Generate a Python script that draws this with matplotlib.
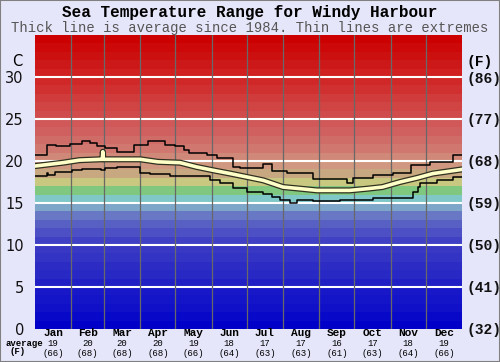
import matplotlib.pyplot as plt
import matplotlib.patheffects as pe
from matplotlib.patches import Rectangle

# month info
months = ['Jan', 'Feb', 'Mar', 'Apr', 'May', 'Jun', 'Jul', 'Aug', 'Sep', 'Oct', 'Nov', 'Dec']
month_starts = [0, 31, 59, 90, 120, 151, 181, 212, 243, 273, 304, 334, 365]
avg_c = [19, 20, 20, 20, 19, 18, 17, 17, 16, 17, 18, 19]
avg_f = [66, 68, 68, 68, 66, 64, 63, 63, 61, 63, 64, 66]

# y ticks
c_ticks = [0, 5, 10, 15, 20, 25, 30]
f_labels = ['(32)', '(41)', '(50)', '(59)', '(68)', '(77)', '(86)']

# extremes (step lines), day of year -> deg C
max_days = [0, 10, 18, 30, 40, 47, 53, 60, 70, 85, 97, 111, 120, 127, 132, 147, 156, 169, 175,
            195, 203, 215, 238, 267, 272, 289, 306, 321, 338, 357, 365]
max_temps = [20.7, 21.9, 21.8, 22.0, 22.4, 22.1, 21.8, 21.5, 21.1, 21.9, 22.4, 21.9, 21.8, 21.3,
             21.0, 20.7, 20.4, 19.3, 19.2, 19.6, 18.8, 18.6, 17.9, 17.4, 18.0, 18.3, 18.6, 19.5,
             19.9, 20.7, 20.7]
min_days = [0, 10, 11, 17, 32, 40, 56, 60, 70, 90, 98, 115, 150, 158, 169, 181, 195, 203, 209,
            218, 224, 238, 261, 289, 323, 327, 329, 344, 357, 365]
min_temps = [18.2, 18.6, 18.3, 18.7, 18.9, 19.0, 18.9, 19.2, 19.3, 18.6, 18.5, 18.2, 17.7, 17.4,
             16.8, 16.3, 16.1, 15.7, 15.4, 15.0, 15.4, 15.2, 15.4, 15.6, 16.3, 16.9, 17.4, 17.7,
             18.1, 18.1]

# average line (with the glitch near 29 Feb)
avg_days = [0, 24, 38, 56, 57.6, 58, 58.4, 67, 90, 105, 124, 138, 152, 167, 181, 195, 212, 227,
            241, 255, 269, 284, 297, 312, 327, 340, 355, 365]
avg_temps = [19.4, 19.8, 20.1, 20.2, 20.2, 21.1, 20.2, 20.2, 20.2, 19.9, 19.8, 19.3, 18.9, 18.5,
             18.1, 17.7, 16.9, 16.7, 16.5, 16.5, 16.5, 16.7, 16.9, 17.5, 18.0, 18.5, 18.8, 19.0]

# one colour per degree band, 0..35
band_colors = ['#0000c8', '#0808c8', '#1010c8', '#1414c8', '#1818c8', '#2020c4', '#2828c4',
               '#2c2cc4', '#3434c4', '#3838c4', '#4040c4', '#4c50c4', '#5860c4', '#6878c4',
               '#7ea6c8', '#80c8c8', '#80c880', '#c8c880', '#c8a880', '#d09880', '#d08878',
               '#d07870', '#d06c68', '#d06060', '#d05858', '#d04c4c', '#d04444', '#d03c3c',
               '#d03030', '#d02828', '#d02020', '#cc1818', '#cc1010', '#cc0808', '#cc0000']

bg = '#e6e6fa'
fig = plt.figure(figsize=(5, 3.62), dpi=100, facecolor=bg)
ax = fig.add_axes([0.07, 0.0912, 0.854, 0.8121])

for i, c in enumerate(band_colors):
    ax.axhspan(i, i + 1, color=c, lw=0, zorder=0)

for t in c_ticks[1:]:
    ax.axhline(t, color='white', lw=1.5, zorder=1)
for d in month_starts[1:-1]:
    ax.axvline(d, color='#686868', lw=0.9, zorder=1)

ax.step(max_days, max_temps, where='post', color='black', lw=1.1, zorder=3)
ax.step(min_days, min_temps, where='post', color='black', lw=1.1, zorder=3)
ax.plot(avg_days, avg_temps, color='#ffffc8', lw=2.6, zorder=4,
        path_effects=[pe.Stroke(linewidth=4.4, foreground='#303020'), pe.Normal()])

ax.set_xlim(0, 365)
ax.set_ylim(0, 35)
for s in ax.spines.values():
    s.set_visible(False)
ax.set_xticks([])
ax.set_yticks(c_ticks)
ax.set_yticklabels([str(t) for t in c_ticks], fontsize=10.5, family='DejaVu Sans', color='#111111')
ax.tick_params(axis='y', length=0, pad=8)

ax2 = ax.twinx()
ax2.set_ylim(0, 35)
ax2.set_yticks(c_ticks)
ax2.set_yticklabels(f_labels, fontsize=10.5, family='Liberation Mono', weight='bold', color='#111111')
ax2.tick_params(axis='y', length=0, pad=3)
for s in ax2.spines.values():
    s.set_visible(False)

# month labels under the plot
xt = ax.get_xaxis_transform()
for i, m in enumerate(months):
    mid = (month_starts[i] + month_starts[i + 1]) / 2
    ax.text(mid, -0.014, m, transform=xt, ha='center', va='center', fontsize=8,
            family='Liberation Mono', weight='bold')
    ax.text(mid, -0.049, str(avg_c[i]), transform=xt, ha='center', va='center', fontsize=6.5,
            family='Liberation Mono')
    ax.text(mid, -0.082, '(%d)' % avg_f[i], transform=xt, ha='center', va='center', fontsize=6.5,
            family='Liberation Mono')

fig.text(43 / 500, 1 - 343 / 362, 'average', ha='right', va='center', fontsize=6.5,
         family='Liberation Mono', weight='bold')
fig.text(18 / 500, 1 - 352 / 362, '(F)', ha='center', va='center', fontsize=6.5,
         family='Liberation Mono', weight='bold')
fig.text(22 / 500, 1 - 61 / 362, 'C', ha='right', va='center', fontsize=10.5, family='DejaVu Sans')
fig.text(493 / 500, 1 - 62 / 362, '(F)', ha='right', va='center', fontsize=10.5,
         family='Liberation Mono', weight='bold')

fig.text(0.5, 1 - 12.5 / 362, 'Sea Temperature Range for Windy Harbour', ha='center', va='center',
         fontsize=11.5, family='Liberation Mono', weight='bold')
fig.text(0.5, 1 - 28 / 362, 'Thick line is average since 1984. Thin lines are extremes',
         ha='center', va='center', fontsize=10, family='Liberation Mono', color='#555555')

fig.patches.append(Rectangle((0, 0), 1, 1, transform=fig.transFigure, fill=False,
                             edgecolor='#808080', lw=1.5))

fig.savefig('out.png', dpi=100, facecolor=bg)
